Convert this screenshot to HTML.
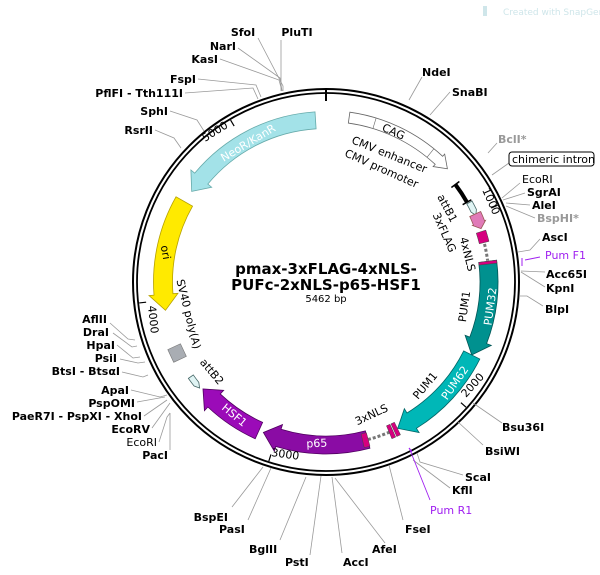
<!DOCTYPE html>
<html><head><meta charset="utf-8"><style>
html,body{margin:0;padding:0;background:#fff;}
svg{display:block;font-family:"DejaVu Sans","Liberation Sans",sans-serif;}
.e{font-size:11px;font-weight:bold;fill:#000;}
.n{font-size:11px;fill:#000;}
.g{fill:#999;}
.p{fill:#a020f0;font-weight:normal;}
.f{font-size:11px;fill:#000;}
.w{font-size:11px;fill:#fff;}
.l{stroke:#999;stroke-width:0.8;fill:none;}
</style></head><body>
<svg id="s" width="600" height="575" viewBox="0 0 600 575" xmlns="http://www.w3.org/2000/svg">
<text x="503" y="15" font-size="9" fill="#cfe6ea">Created with SnapGene</text>
<rect x="483" y="6" width="4" height="10" fill="#cfe6ea"/>
<g id="shapes"></g>
<circle cx="326" cy="282" r="193" fill="none" stroke="#000" stroke-width="2"/>
<circle cx="326" cy="282" r="189" fill="none" stroke="#000" stroke-width="1.8"/>
<line x1="326" y1="89" x2="326" y2="101" stroke="#000" stroke-width="2"/>
<g class="l">
<polyline points="258,38 283,86 283,91"/>
<polyline points="281,40 281,91"/>
<polyline points="238,48 280,78 282,91"/>
<polyline points="220,59 279,80 282,91"/>
<polyline points="198,79 256,85 261,97"/>
<polyline points="185,93 253,88 258,99"/>
<polyline points="170,111 197,120 204,131"/>
<polyline points="155,130 174,138 181,148"/>
<polyline points="422,77 409,100"/>
<polyline points="450,92 430,115"/>
<polyline points="497,143 488,153"/>
<polyline points="509,163 492,175"/>
<polyline points="520,183 502,198"/>
<polyline points="525,193 503,200"/>
<polyline points="530,205 506,203"/>
<polyline points="535,218 506,206"/>
<polyline points="540,239 530,250 518,252"/>
<polyline points="545,272 521,271"/>
<polyline points="545,287 521,272"/>
<polyline points="543,306 527,296 520,296"/>
<polyline points="502,423 473,403"/>
<polyline points="483,445 458,422"/>
<polyline points="463,475 420,462 417,453"/>
<polyline points="450,488 413,460"/>
<polyline points="403,520 389,465"/>
<polyline points="385,543 335,478"/>
<polyline points="342,553 332,477"/>
<polyline points="310,555 321,476"/>
<polyline points="280,540 306,477"/>
<polyline points="248,520 271,468"/>
<polyline points="232,507 263,467"/>
<polyline points="110,323 128,339 135,340"/>
<polyline points="113,333 132,347 137,346"/>
<polyline points="117,345 133,358 140,357"/>
<polyline points="120,359 138,363 145,362"/>
<polyline points="122,372 143,377 148,375"/>
<polyline points="131,390 160,397 167,395"/>
<polyline points="137,402 165,397"/>
<polyline points="144,416 167,400"/>
<polyline points="152,428 170,403"/>
<polyline points="159,442 167,417 170,413"/>
<polyline points="170,450 170,413"/>
</g>
<polyline points="540,257 525,260" stroke="#a020f0" stroke-width="0.9" fill="none"/>
<line x1="522" y1="258" x2="522" y2="266" stroke="#a020f0" stroke-width="1"/>
<polyline points="430,500 410,450" stroke="#a020f0" stroke-width="0.9" fill="none"/>
<line x1="409" y1="448" x2="412" y2="452" stroke="#a020f0" stroke-width="1.2"/>
<g class="e">
<text x="243" y="36" text-anchor="middle">SfoI</text>
<text x="297" y="36" text-anchor="middle">PluTI</text>
<text x="236" y="50" text-anchor="end">NarI</text>
<text x="218" y="63" text-anchor="end">KasI</text>
<text x="196" y="83" text-anchor="end">FspI</text>
<text x="183" y="97" text-anchor="end">PflFI - Tth111I</text>
<text x="168" y="115" text-anchor="end">SphI</text>
<text x="153" y="134" text-anchor="end">RsrII</text>
<text x="422" y="76">NdeI</text>
<text x="452" y="96">SnaBI</text>
<text x="498" y="143" class="e g">BclI*</text>
<text x="527" y="196">SgrAI</text>
<text x="532" y="209">AleI</text>
<text x="537" y="222" class="e g">BspHI*</text>
<text x="542" y="241">AscI</text>
<text x="546" y="278">Acc65I</text>
<text x="546" y="292">KpnI</text>
<text x="545" y="313">BlpI</text>
<text x="502" y="431">Bsu36I</text>
<text x="485" y="455">BsiWI</text>
<text x="465" y="481">ScaI</text>
<text x="452" y="494">KflI</text>
<text x="405" y="533">FseI</text>
<text x="372" y="553">AfeI</text>
<text x="343" y="566">AccI</text>
<text x="285" y="566">PstI</text>
<text x="249" y="553">BglII</text>
<text x="219" y="533">PasI</text>
<text x="228" y="521" text-anchor="end">BspEI</text>
<text x="107" y="323" text-anchor="end">AflII</text>
<text x="109" y="336" text-anchor="end">DraI</text>
<text x="115" y="349" text-anchor="end">HpaI</text>
<text x="117" y="362" text-anchor="end">PsiI</text>
<text x="120" y="375" text-anchor="end">BtsI - BtsαI</text>
<text x="129" y="394" text-anchor="end">ApaI</text>
<text x="135" y="407" text-anchor="end">PspOMI</text>
<text x="142" y="420" text-anchor="end">PaeR7I - PspXI - XhoI</text>
<text x="150" y="433" text-anchor="end">EcoRV</text>
<text x="168" y="459" text-anchor="end">PacI</text>
</g>
<text x="522" y="183" class="n">EcoRI</text>
<text x="157" y="446" class="n" text-anchor="end">EcoRI</text>
<text x="545" y="259" class="n p">Pum F1</text>
<text x="430" y="514" class="n p">Pum R1</text>
<rect x="509" y="152" width="85" height="14" rx="3" fill="#fff" stroke="#000" stroke-width="1"/>
<text x="512" y="163" class="n">chimeric intron</text>
<g class="f">
<text transform="translate(482,190) rotate(66)">1000</text>
<text transform="translate(466,398) rotate(-48)">2000</text>
<text transform="translate(271,456) rotate(8)">3000</text>
<text transform="translate(148,306) rotate(84)">4000</text>
<text transform="translate(205,142) rotate(-32)">5000</text>
</g>
<g class="f">
<text transform="translate(392,135) rotate(24)" text-anchor="middle">CAG</text>
<text transform="translate(388,158) rotate(22)" text-anchor="middle">CMV enhancer</text>
<text transform="translate(380,172) rotate(24)" text-anchor="middle">CMV promoter</text>
<text transform="translate(444,210) rotate(62)" text-anchor="middle">attB1</text>
<text transform="translate(441,234) rotate(66)" text-anchor="middle">3xFLAG</text>
<text transform="translate(464,255) rotate(76)" text-anchor="middle">4xNLS</text>
<text transform="translate(468,307) rotate(-82)" text-anchor="middle">PUM1</text>
<text transform="translate(428,388) rotate(-50)" text-anchor="middle">PUM1</text>
<text transform="translate(373,418) rotate(-25)" text-anchor="middle">3xNLS</text>
<text transform="translate(209,374) rotate(50)" text-anchor="middle">attB2</text>
<text transform="translate(185,315) rotate(76)" text-anchor="middle">SV40 poly(A)</text>
</g>
<g class="w">
<text transform="translate(494,307) rotate(-82)" text-anchor="middle">PUM32</text>
<text transform="translate(458,385) rotate(-55)" text-anchor="middle">PUM62</text>
<text transform="translate(317,447) rotate(-3)" text-anchor="middle">p65</text>
<text transform="translate(232,418) rotate(40)" text-anchor="middle">HSF1</text>
<text transform="translate(250,146) rotate(-31)" text-anchor="middle">NeoR/KanR</text>
</g>
<text transform="translate(162,253) rotate(80)" text-anchor="middle" class="f">ori</text>
<text x="326" y="274" text-anchor="middle" font-size="15" font-weight="bold">pmax-3xFLAG-4xNLS-</text>
<text x="326" y="290" text-anchor="middle" font-size="15" font-weight="bold">PUFc-2xNLS-p65-HSF1</text>
<text x="326" y="302" text-anchor="middle" font-size="10">5462 bp</text>
<script>
var cx=326,cy=282,NS="http://www.w3.org/2000/svg",G=document.getElementById("shapes");
function P(r,a){a=a*Math.PI/180;return (cx+r*Math.sin(a)).toFixed(2)+","+(cy-r*Math.cos(a)).toFixed(2);}
function add(tag,at){var e=document.createElementNS(NS,tag);for(var k in at)e.setAttribute(k,at[k]);G.appendChild(e);return e;}
function arrow(a1,a2,r,w,dir,fill,stroke,head,flare){
 head=head||14;flare=flare===undefined?4:flare;
 var ro=r+w/2,ri=r-w/2,h=head/r*180/Math.PI,d;
 if(dir>0){var an=a2-h;var lg=(an-a1)>180?1:0;
  d="M"+P(ro,a1)+" A"+ro+","+ro+" 0 "+lg+" 1 "+P(ro,an)+" L"+P(ro+flare,an)+" L"+P(r,a2)+" L"+P(ri-flare,an)+" L"+P(ri,an)+" A"+ri+","+ri+" 0 "+lg+" 0 "+P(ri,a1)+" Z";}
 else{var an=a1+h;var lg=(a2-an)>180?1:0;
  d="M"+P(ro,a2)+" A"+ro+","+ro+" 0 "+lg+" 0 "+P(ro,an)+" L"+P(ro+flare,an)+" L"+P(r,a1)+" L"+P(ri-flare,an)+" L"+P(ri,an)+" A"+ri+","+ri+" 0 "+lg+" 1 "+P(ri,a2)+" Z";}
 add("path",{d:d,fill:fill,stroke:stroke,"stroke-width":0.8});
}
function seg(a1,a2,r,w,fill){var ro=r+w/2,ri=r-w/2;
 add("path",{d:"M"+P(ro,a1)+" A"+ro+","+ro+" 0 0 1 "+P(ro,a2)+" L"+P(ri,a2)+" A"+ri+","+ri+" 0 0 0 "+P(ri,a1)+" Z",fill:fill,stroke:"#444","stroke-width":0.5});}
function rline(a,r1,r2,c,wd){var p1=P(r1,a).split(","),p2=P(r2,a).split(",");add("line",{x1:p1[0],y1:p1[1],x2:p2[0],y2:p2[1],stroke:c,"stroke-width":wd});}
function arcline(a1,a2,r,c,wd,dash){var e=add("path",{d:"M"+P(r,a1)+" A"+r+","+r+" 0 0 1 "+P(r,a2),fill:"none",stroke:c,"stroke-width":wd});if(dash)e.setAttribute("stroke-dasharray",dash);}
[65.9,131.8,197.7,263.6,329.5].forEach(function(a){rline(a,188,181,"#000",1.2);});
arrow(8,47,166,11,1,"#fff","#666",12,3);
rline(17,160.5,171.5,"#666",0.6);rline(39,160.5,171.5,"#666",0.6);
arrow(304,356.3,162,17,-1,"#a3e2e8","#6aa",16,5);
arrow(260,299.6,163,19,-1,"#ffea00","#b5a000",16,5);
arrow(82.7,116.6,163,18,1,"#00918f","#055",16,5);
arrow(116.6,153.9,163,18,1,"#00b7b7","#066",16,5);
arrow(165.2,202.6,163,18,1,"#8a0ca4","#50005f",16,5);
arrow(204.3,229,163,18,1,"#9b0bb8","#50005f",16,5);
arcline(157,165,163,"#777",3,"3,2");
seg(165,167,163,14,"#d6007f");
seg(154,155.4,163,14,"#d6007f");seg(155.8,157.2,163,14,"#d6007f");
seg(72,76,163,10,"#d6007f");
arcline(76.5,82.5,163,"#777",3,"3,2");
seg(82.7,83.7,163,18,"#d6007f");
arcline(53,60.5,162,"#000",4);
rline(53,157,167,"#000",1.5);rline(60.5,157,167,"#000",1.5);
arrow(61,66,164,6,1,"#e0f4f4","#466",5,0);
arrow(65.5,71,164,12,1,"#e07ab8","#955",6,1);
arrow(230,235,165,6,-1,"#e0f4f4","#466",5,0);
(function(){var c=P(165,244.5).split(",");add("rect",{x:-7,y:-7,width:14,height:14,fill:"#a9adb3",stroke:"#777","stroke-width":0.6,transform:"translate("+c[0]+","+c[1]+") rotate(-25)"});})();
</script>
</svg>
</body></html>
